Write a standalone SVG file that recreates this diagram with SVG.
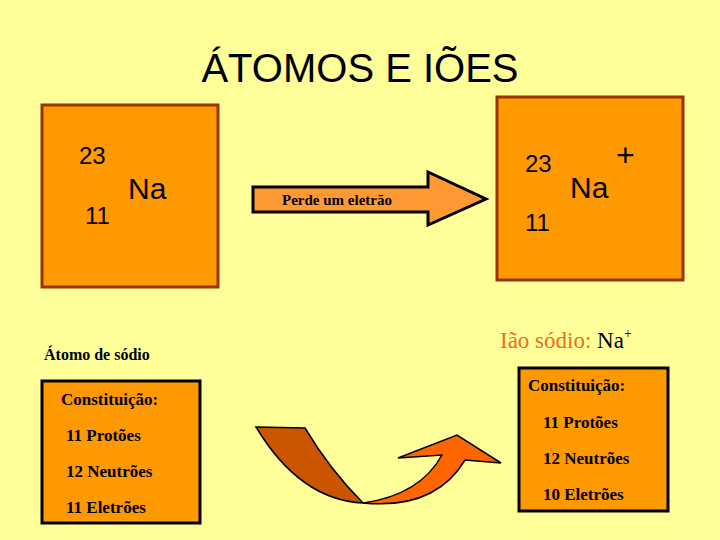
<svg xmlns="http://www.w3.org/2000/svg" width="720" height="540" viewBox="0 0 720 540">
<style>
.box{fill:#ff9900;stroke:#993300;stroke-width:3}
.cbox{fill:#ff9900;stroke:#000;stroke-width:3}
.s{font-family:"Liberation Sans",Arial,sans-serif;fill:#000}
.b{font-family:"Liberation Serif","Times New Roman",serif;font-weight:bold;fill:#000}
</style>
<rect width="720" height="540" fill="#ffff99"/>
<text class="s" x="360" y="82" font-size="40" text-anchor="middle">ÁTOMOS E IÕES</text>
<g id="atom">
<rect class="box" x="42" y="105" width="176" height="182"/>
<text class="s" x="79" y="164" font-size="24">23</text>
<text class="s" x="128" y="199" font-size="30">Na</text>
<text class="s" x="85" y="224" font-size="24">11</text>
</g>
<g id="ion">
<rect class="box" x="497" y="97" width="186" height="183"/>
<text class="s" x="525" y="172" font-size="24">23</text>
<text class="s" x="570" y="198" font-size="30">Na</text>
<text class="s" x="616" y="166" font-size="32">+</text>
<text class="s" x="525" y="231" font-size="24">11</text>
</g>
<g id="connectors">
<g id="arrow">
<polygon points="253,187 428,187 428,172 486,199 428,225 428,212 253,212" fill="#ff9933" stroke="#000" stroke-width="3"/>
<text class="b" x="282" y="205" font-size="15" font-weight="normal">Perde um eletrão</text>
</g>
<g id="curve">
<path d="M256,427 L305,428 Q330,470 363,503 Q300,500 256,427 Z" fill="#cc5500" stroke="#000" stroke-width="1.5"/>
<path d="M363,503 Q420,495 442,455 L398,458 L457,435 L501,463 L465,460 Q435,510 363,503 Z" fill="#ff6600" stroke="#000" stroke-width="1.5"/>
</g>
</g>
<g id="atomInfo">
<text class="b" x="44" y="360" font-size="16" font-weight="normal">Átomo de sódio</text>
<rect class="cbox" x="42" y="381" width="158" height="142"/>
<text class="b" x="61" y="405" font-size="17" font-weight="normal">Constituição:</text>
<text class="b" x="66" y="441" font-size="17" font-weight="normal">11 Protões</text>
<text class="b" x="66" y="477" font-size="17" font-weight="normal">12 Neutrões</text>
<text class="b" x="66" y="513" font-size="17" font-weight="normal">11 Eletrões</text>
</g>
<g id="ionInfo">
<text x="500" y="348" font-size="23" font-family="Liberation Serif,serif"><tspan fill="#e8701a">Ião sódio: </tspan><tspan fill="#000">Na</tspan><tspan fill="#000" font-size="14" dy="-10">+</tspan></text>
<rect class="cbox" x="519" y="368" width="149" height="143"/>
<text class="b" x="528" y="391" font-size="17" font-weight="normal">Constituição:</text>
<text class="b" x="543" y="428" font-size="17" font-weight="normal">11 Protões</text>
<text class="b" x="543" y="464" font-size="17" font-weight="normal">12 Neutrões</text>
<text class="b" x="543" y="500" font-size="17" font-weight="normal">10 Eletrões</text>
</g>
</svg>
